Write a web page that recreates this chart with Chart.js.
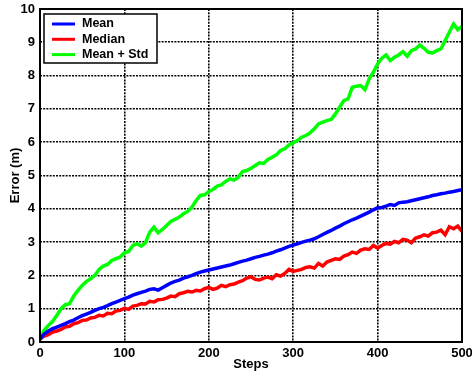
<!DOCTYPE html>
<html>
<head>
<meta charset="utf-8">
<script src="https://cdn.jsdelivr.net/npm/chart.js@4/dist/chart.umd.min.js"></script>
<style>
  html, body { margin: 0; padding: 0; background: #fff; }
  #wrap { width: 472px; height: 374px; }
</style>
</head>
<body>
<div id="wrap"><canvas id="errChart" width="472" height="374"></canvas></div>
<script>
const steps = [0,5,10,15,20,25,30,35,40,45,50,55,60,65,70,75,80,85,90,95,
  100,105,110,115,120,125,130,135,140,145,150,155,160,165,170,175,180,185,190,195,
  200,205,210,215,220,225,230,235,240,245,250,255,260,265,270,275,280,285,290,295,
  300,305,310,315,320,325,330,335,340,345,350,355,360,365,370,375,380,385,390,395,
  400,405,410,415,420,425,430,435,440,445,450,455,460,465,470,475,480,485,490,495,500];

const meanErr = [0.08,0.24,0.33,0.40,0.45,0.50,0.55,0.61,0.66,0.73,0.79,0.84,0.89,0.95,1.00,1.04,1.09,1.15,1.20,1.25,
  1.30,1.35,1.41,1.45,1.49,1.53,1.58,1.60,1.56,1.63,1.70,1.77,1.82,1.86,1.92,1.96,2.00,2.05,2.10,2.13,
  2.16,2.19,2.22,2.25,2.28,2.31,2.35,2.39,2.43,2.46,2.50,2.54,2.57,2.61,2.64,2.68,2.73,2.77,2.82,2.87,
  2.91,2.95,2.99,3.03,3.06,3.10,3.16,3.23,3.29,3.35,3.42,3.48,3.55,3.61,3.67,3.72,3.78,3.84,3.90,3.97,
  4.03,4.04,4.08,4.13,4.10,4.18,4.20,4.21,4.24,4.27,4.30,4.33,4.36,4.40,4.42,4.45,4.47,4.50,4.52,4.55,4.57];

const medianErr = [0.10,0.18,0.22,0.30,0.33,0.38,0.45,0.47,0.55,0.58,0.65,0.66,0.72,0.74,0.80,0.78,0.86,0.85,0.93,0.95,
  1.01,0.98,1.08,1.10,1.15,1.14,1.22,1.20,1.27,1.28,1.32,1.38,1.36,1.45,1.48,1.52,1.50,1.55,1.53,1.60,
  1.64,1.58,1.62,1.70,1.66,1.72,1.74,1.80,1.84,1.92,1.96,1.88,1.86,1.92,1.95,1.90,2.02,1.98,2.06,2.18,
  2.12,2.15,2.18,2.24,2.26,2.22,2.36,2.28,2.40,2.45,2.50,2.48,2.58,2.62,2.70,2.66,2.76,2.80,2.78,2.90,
  2.82,2.90,2.96,2.94,3.02,2.98,3.08,3.06,2.98,3.12,3.16,3.22,3.18,3.28,3.30,3.36,3.22,3.46,3.40,3.48,3.32];

const meanPlusStd = [0.10,0.35,0.50,0.62,0.80,1.00,1.12,1.15,1.38,1.55,1.70,1.82,1.90,2.00,2.18,2.28,2.33,2.45,2.50,2.55,
  2.68,2.72,2.90,2.95,2.88,2.98,3.30,3.45,3.28,3.38,3.50,3.62,3.68,3.75,3.85,3.92,4.05,4.25,4.40,4.42,
  4.52,4.58,4.68,4.72,4.82,4.90,4.86,4.95,5.12,5.15,5.22,5.30,5.38,5.36,5.48,5.55,5.62,5.75,5.80,5.92,
  5.98,6.05,6.15,6.20,6.28,6.40,6.55,6.60,6.65,6.68,6.85,7.05,7.25,7.30,7.65,7.68,7.70,7.58,7.90,8.10,
  8.35,8.52,8.62,8.45,8.55,8.62,8.72,8.58,8.75,8.80,8.92,8.82,8.70,8.68,8.75,8.80,9.05,9.30,9.55,9.38,9.48];

const seriesNames = ['Mean', 'Median', 'Mean + Std'];
const seriesColors = ['#0000ff', '#ff0000', '#00ff00'];

const FONT = 'Liberation Sans, Arial, sans-serif';

function pts(ys) {
  return steps.map((s, i) => ({ x: s, y: ys[i] }));
}

// box round the plot area, like matlab's axes
const frameBox = {
  id: 'frameBox',
  afterDatasetsDraw(chart) {
    const { ctx, chartArea: a } = chart;
    ctx.save();
    ctx.strokeStyle = '#000';
    ctx.lineWidth = 2;
    ctx.strokeRect(a.left, a.top, a.right - a.left, a.bottom - a.top);
    ctx.restore();
  }
};

// legend drawn inside the plot, top left
const innerLegend = {
  id: 'innerLegend',
  afterDraw(chart) {
    const { ctx, chartArea: a } = chart;
    const x0 = a.left + 4, y0 = a.top + 5, w = 113, h = 49;
    ctx.save();
    ctx.fillStyle = '#fff';
    ctx.fillRect(x0, y0, w, h);
    ctx.strokeStyle = '#000';
    ctx.lineWidth = 1.5;
    ctx.strokeRect(x0, y0, w, h);
    ctx.font = 'bold 12.5px ' + FONT;
    ctx.textBaseline = 'middle';
    chart.data.datasets.forEach((ds, i) => {
      const y = y0 + 10 + i * 15.3;
      ctx.strokeStyle = ds.borderColor;
      ctx.lineWidth = 3;
      ctx.beginPath();
      ctx.moveTo(x0 + 8, y);
      ctx.lineTo(x0 + 31, y);
      ctx.stroke();
      ctx.fillStyle = '#000';
      ctx.fillText(ds.label, x0 + 38, y);
    });
    ctx.restore();
  }
};

const ctx = document.getElementById('errChart');
new Chart(ctx, {
  type: 'line',
  data: {
    datasets: [meanErr, medianErr, meanPlusStd].map((ys, i) => ({
      label: seriesNames[i],
      data: pts(ys),
      borderColor: seriesColors[i],
      backgroundColor: seriesColors[i],
      borderWidth: 3.5,
      pointRadius: 0,
      tension: 0,
      fill: false
    }))
  },
  options: {
    responsive: false,
    animation: false,
    layout: { autoPadding: false, padding: { top: 9, right: 10, left: 0, bottom: 0 } },
    plugins: {
      legend: { display: false },
      tooltip: { enabled: false }
    },
    scales: {
      x: {
        type: 'linear',
        min: 0,
        max: 500,
        afterFit(scale) {
          scale.height = 32;
          scale.paddingLeft = 0;
          scale.paddingRight = 0;
        },
        ticks: {
          stepSize: 100,
          color: '#000',
          padding: 4,
          font: { family: FONT, size: 13, weight: 'bold' }
        },
        grid: {
          color: '#000',
          lineWidth: 1.6,
          drawTicks: false
        },
        border: { display: false, dash: [2, 1.2] },
        title: {
          display: true,
          text: 'Steps',
          color: '#000',
          padding: { top: 0, bottom: 2 },
          font: { family: FONT, size: 13, weight: 'bold' }
        }
      },
      y: {
        min: 0,
        max: 10,
        afterFit(scale) {
          scale.width = 40;
          scale.paddingTop = 0;
          scale.paddingBottom = 0;
        },
        ticks: {
          stepSize: 1,
          color: '#000',
          padding: 5,
          font: { family: FONT, size: 13, weight: 'bold' }
        },
        grid: {
          color: '#000',
          lineWidth: 1.6,
          drawTicks: false
        },
        border: { display: false, dash: [2, 1.2] },
        title: {
          display: true,
          text: 'Error (m)',
          color: '#000',
          padding: { top: 8, bottom: 0 },
          font: { family: FONT, size: 13, weight: 'bold' }
        }
      }
    }
  },
  plugins: [frameBox, innerLegend]
});
</script>
</body>
</html>
